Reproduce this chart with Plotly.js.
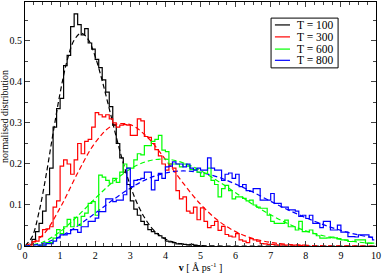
<!DOCTYPE html>
<html><head><meta charset="utf-8">
<script src="https://cdn.plot.ly/plotly-3.0.1.min.js"></script>
<style>html,body{margin:0;padding:0;background:#fff}#c{width:382px;height:273px}</style>
</head><body><div id="c"></div>
<script>
// Histogram bin centres (width 0.1) and values
const binsT100 = [0.15,0.25,0.35,0.45,0.55,0.65,0.75,0.85,0.95,1.05,1.15,1.25,1.35,1.45,1.55,1.65,1.75,1.85,1.95,2.05,2.15,2.25,2.35,2.45,2.55,2.65,2.75,2.85,2.95,3.05,3.15,3.25,3.35,3.45,3.55,3.65,3.75,3.85,3.95,4.05,4.15,4.25,4.35,4.45,4.55,4.65,4.75,4.85,4.95,5.05];
const histT100 = [0.004,0.016,0.035,0.055,0.085,0.125,0.19,0.29,0.335,0.36,0.44,0.465,0.535,0.566,0.54,0.515,0.53,0.495,0.48,0.455,0.435,0.405,0.375,0.34,0.295,0.25,0.215,0.18,0.15,0.11,0.09,0.075,0.06,0.052,0.04,0.035,0.03,0.025,0.02,0.012,0.01,0.008,0.005,0.006,0.004,0.003,0.004,0.002,0.001,0];

const binsT300 = [0.15,0.25,0.35,0.45,0.55,0.65,0.75,0.85,0.95,1.05,1.15,1.25,1.35,1.45,1.55,1.65,1.75,1.85,1.95,2.05,2.15,2.25,2.35,2.45,2.55,2.65,2.75,2.85,2.95,3.05,3.15,3.25,3.35,3.45,3.55,3.65,3.75,3.85,3.95,4.05,4.15,4.25,4.35,4.45,4.55,4.65,4.75,4.85,4.95,5.05,5.15,5.25,5.35,5.45,5.55,5.65,5.75,5.85,5.95,6.05,6.15,6.25,6.35,6.45,6.55,6.65,6.75,6.85,6.95,7.05,7.15,7.25,7.35,7.45,7.55,7.65,7.75,7.85,7.95,8.05];
const histT300 = [0.002,0.01,0.012,0.023,0.04,0.042,0.047,0.095,0.11,0.195,0.21,0.2,0.175,0.21,0.25,0.225,0.255,0.26,0.29,0.325,0.32,0.315,0.32,0.31,0.3,0.29,0.295,0.296,0.295,0.27,0.27,0.31,0.305,0.267,0.265,0.25,0.235,0.22,0.2,0.185,0.2,0.19,0.135,0.115,0.12,0.085,0.08,0.095,0.064,0.093,0.06,0.045,0.05,0.06,0.038,0.048,0.028,0.024,0.022,0.03,0.015,0.012,0.008,0.018,0.015,0.012,0.006,0.005,0.004,0.004,0.003,0.002,0.003,0.002,0.003,0.002,0.002,0.001,0.002,0];

const binsT600 = [0.35,0.45,0.55,0.65,0.75,0.85,0.95,1.05,1.15,1.25,1.35,1.45,1.55,1.65,1.75,1.85,1.95,2.05,2.15,2.25,2.35,2.45,2.55,2.65,2.75,2.85,2.95,3.05,3.15,3.25,3.35,3.45,3.55,3.65,3.75,3.85,3.95,4.05,4.15,4.25,4.35,4.45,4.55,4.65,4.75,4.85,4.95,5.05,5.15,5.25,5.35,5.45,5.55,5.65,5.75,5.85,5.95,6.05,6.15,6.25,6.35,6.45,6.55,6.65,6.75,6.85,6.95,7.05,7.15,7.25,7.35,7.45,7.55,7.65,7.75,7.85,7.95,8.05,8.15,8.25,8.35,8.45,8.55,8.65,8.75,8.85,8.95,9.05,9.15,9.25,9.35,9.45,9.55,9.65,9.75,9.85,9.95];
const histT600 = [0,0.002,0.003,0.008,0.008,0.019,0.04,0.03,0.047,0.065,0.047,0.07,0.05,0.072,0.08,0.104,0.108,0.075,0.173,0.168,0.16,0.153,0.165,0.155,0.18,0.2,0.19,0.19,0.21,0.225,0.222,0.245,0.245,0.255,0.26,0.27,0.234,0.23,0.2,0.2,0.2,0.193,0.2,0.195,0.186,0.186,0.18,0.17,0.177,0.19,0.16,0.15,0.12,0.14,0.148,0.135,0.115,0.12,0.12,0.116,0.11,0.112,0.1,0.095,0.092,0.092,0.075,0.06,0.055,0.055,0.055,0.063,0.047,0.047,0.039,0.06,0.035,0.035,0.039,0.03,0.025,0.019,0.019,0.02,0.022,0.02,0.018,0.015,0.015,0.011,0.011,0.015,0.015,0.015,0.007,0.007,0.007];

const binsT800 = binsT600;
const histT800 = [0,0.002,0.002,0.006,0.006,0.012,0.02,0.027,0.027,0.03,0.04,0.04,0.033,0.047,0.047,0.06,0.06,0.068,0.084,0.084,0.115,0.115,0.108,0.112,0.112,0.125,0.19,0.145,0.16,0.162,0.165,0.18,0.18,0.137,0.16,0.177,0.165,0.193,0.195,0.205,0.2,0.2,0.193,0.2,0.19,0.185,0.19,0.185,0.185,0.215,0.19,0.185,0.185,0.16,0.175,0.178,0.165,0.175,0.145,0.15,0.135,0.133,0.14,0.14,0.112,0.112,0.112,0.128,0.104,0.104,0.095,0.095,0.088,0.088,0.085,0.072,0.075,0.067,0.075,0.055,0.055,0.045,0.06,0.06,0.039,0.039,0.051,0.034,0.034,0.023,0.023,0.022,0.027,0.027,0.027,0.022,0.015];

// Dashed reference curves
const fitV100 = [0,0.2,0.4,0.6,0.8,1.0,1.2,1.4,1.6,1.8,2.0,2.2,2.4,2.6,2.8,3.0,3.2,3.4,3.6,3.8,4.0,4.4,4.8,5.2,6,8,10];
const fitT100 = [0,0.022,0.083,0.172,0.275,0.373,0.452,0.502,0.519,0.504,0.462,0.403,0.335,0.266,0.202,0.147,0.103,0.070,0.045,0.028,0.017,0.0055,0.0016,0.0004,0,0,0];
const fitV = [0,0.5,1.0,1.5,2.0,2.5,3.0,3.5,4.0,4.5,5.0,5.5,6.0,6.5,7.0,7.5,8.0,8.5,9.0,9.5,10];
const fitT300 = [0,0.026,0.093,0.178,0.252,0.294,0.296,0.264,0.211,0.154,0.102,0.062,0.035,0.018,0.0088,0.0039,0.0016,0.0006,0.0002,0.0001,0];
const fitT600 = [0,0.0092,0.035,0.073,0.116,0.156,0.188,0.207,0.212,0.203,0.184,0.158,0.130,0.101,0.076,0.054,0.037,0.025,0.016,0.0095,0.0056];
const fitT800 = [0,0.006,0.023,0.049,0.080,0.112,0.141,0.164,0.178,0.183,0.179,0.168,0.151,0.131,0.109,0.088,0.069,0.052,0.038,0.027,0.019];

const labels = ['T = 100','T = 300','T = 600','T = 800'];
const colors = ['#000000','#ff0000','#00ff00','#0000ff'];
const xTicks = [0,1,2,3,4,5,6,7,8,9,10];
const yTicks = [0,0.1,0.2,0.3,0.4,0.5];
const yTitle = 'normalised distribution';

const bins = [binsT100,binsT300,binsT600,binsT800];
const hists = [histT100,histT300,histT600,histT800];
const fitX = [fitV100,fitV,fitV,fitV];
const fits = [fitT100,fitT300,fitT600,fitT800];

const traces = [];
for (let i=0;i<4;i++){
  traces.push({x:fitX[i],y:fits[i],mode:'lines',showlegend:false,
    line:{color:colors[i],width:1.2,dash:'5px,3px',shape:'spline'},hoverinfo:'skip'});
}
for (let i=0;i<4;i++){
  traces.push({x:bins[i],y:hists[i],mode:'lines',name:labels[i],showlegend:false,
    line:{color:colors[i],width:1.2,shape:'hvh'}});
}

const serif = 'Liberation Serif, Times New Roman, serif';

// Compact boxed legend (xmgrace style) built in paper coordinates
const legBox = {x0:0.701,x1:0.892,y0:0.73,y1:0.934};
const legRowY = [0.906,0.857,0.807,0.761];
const shapes = [{type:'rect',xref:'paper',yref:'paper',x0:legBox.x0,x1:legBox.x1,y0:legBox.y0,y1:legBox.y1,
  line:{color:'#000',width:1},fillcolor:'#fff',layer:'above'}];
const annotations = [];
for (let i=0;i<4;i++){
  shapes.push({type:'line',xref:'paper',yref:'paper',x0:0.712,x1:0.755,y0:legRowY[i],y1:legRowY[i],
    line:{color:colors[i],width:1.2},layer:'above'});
  annotations.push({xref:'paper',yref:'paper',x:0.768,y:legRowY[i],xanchor:'left',yanchor:'middle',
    text:labels[i],showarrow:false,font:{family:serif,size:11.5,color:'#000'}});
}
// y-axis title placed left of the tick labels
annotations.push({xref:'paper',yref:'paper',x:-0.057,y:0.533,xanchor:'center',yanchor:'middle',
  textangle:-90,text:yTitle,showarrow:false,font:{family:serif,size:10,color:'#000'}});

const layout = {
  width:382,height:273,
  margin:{l:25,r:6,t:2,b:27},
  paper_bgcolor:'#fff',plot_bgcolor:'#fff',
  font:{family:serif,size:10,color:'#000'},
  xaxis:{range:[0,10],tickvals:xTicks,ticktext:xTicks.map(String),ticks:'inside',ticklen:5,tickwidth:1,
    showline:true,linecolor:'#000',linewidth:1,mirror:'ticks',showgrid:false,zeroline:false,
    minor:{dtick:0.25,ticks:'inside',ticklen:3,tickwidth:1,showgrid:false},
    tickfont:{family:serif,size:10},
    title:{text:'<b>v</b> [ Å ps<sup>-1</sup> ]',font:{family:serif,size:10},standoff:2},automargin:false},
  yaxis:{range:[0,0.595],tickvals:yTicks,ticktext:yTicks.map(String),ticks:'inside',ticklen:5,tickwidth:1,
    showline:true,linecolor:'#000',linewidth:1,mirror:'ticks',showgrid:false,zeroline:false,
    minor:{dtick:0.05,ticks:'inside',ticklen:3,tickwidth:1,showgrid:false},
    tickfont:{family:serif,size:10},automargin:false},
  shapes:shapes,
  annotations:annotations,
  showlegend:false
};
Plotly.newPlot('c',traces,layout,{staticPlot:true,displayModeBar:false});
</script></body></html>
